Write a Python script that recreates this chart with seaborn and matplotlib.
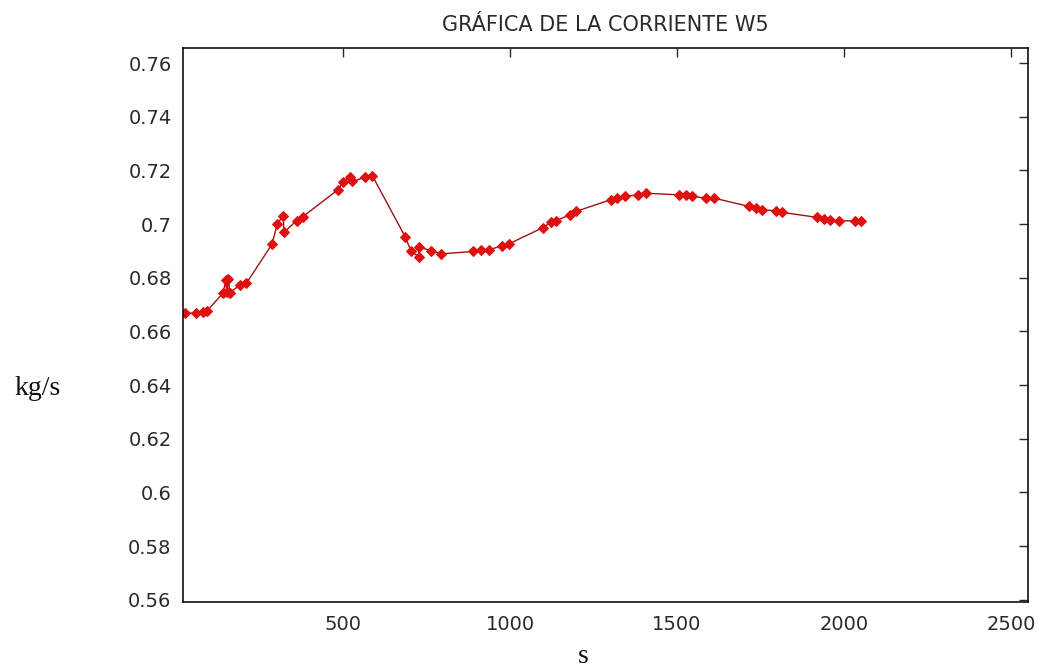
import matplotlib
matplotlib.use("Agg")
import matplotlib.pyplot as plt
import seaborn as sns
import pandas as pd

# Data
time_s = [27, 60, 82, 94, 141, 149, 152, 157, 161, 193, 211, 288, 303, 321, 323,
          361, 380, 485, 500, 520, 528, 565, 588, 687, 704, 727, 729, 764, 794,
          888, 913, 938, 976, 996, 1099, 1122, 1139, 1179, 1197, 1302, 1321,
          1344, 1384, 1406, 1506, 1526, 1546, 1587, 1610, 1715, 1735, 1755,
          1797, 1814, 1919, 1939, 1959, 1984, 2034, 2052]
flow_kgs = [0.6668, 0.6668, 0.6674, 0.6678, 0.6743, 0.6790, 0.6748, 0.6795,
            0.6745, 0.6774, 0.6780, 0.6926, 0.7001, 0.7031, 0.6969, 0.7013,
            0.7028, 0.7128, 0.7157, 0.7174, 0.7159, 0.7174, 0.7180, 0.6951,
            0.6898, 0.6879, 0.6914, 0.6901, 0.6889, 0.6898, 0.6904, 0.6904,
            0.6920, 0.6926, 0.6987, 0.7006, 0.7013, 0.7035, 0.7047, 0.7091,
            0.7097, 0.7103, 0.7109, 0.7115, 0.7109, 0.7109, 0.7103, 0.7097,
            0.7097, 0.7066, 0.7060, 0.7053, 0.7050, 0.7044, 0.7025, 0.7019,
            0.7016, 0.7012, 0.7012, 0.7012]
x_ticks = [500, 1000, 1500, 2000, 2500]
y_ticks = [0.56, 0.58, 0.60, 0.62, 0.64, 0.66, 0.68, 0.70, 0.72, 0.74, 0.76]
title_text = "GRÁFICA DE LA CORRIENTE W5"
x_label = "s"
y_label = "kg/s"

df = pd.DataFrame({"t": time_s, "w": flow_kgs})

sns.set_theme(style="white")
plt.rcParams["font.family"] = ["DejaVu Sans"]

fig = plt.figure(figsize=(10.42, 6.68), dpi=100)
ax = fig.add_axes([0.1753, 0.0988, 0.8110, 0.8293])

sns.lineplot(data=df, x="t", y="w", ax=ax, sort=False, estimator=None,
             color="#a01010", linewidth=1.0, marker="D", markersize=5,
             markerfacecolor="#e01010", markeredgecolor="#e01010")

ax.set_xlim(20, 2550)
ax.set_ylim(0.5592, 0.7656)
ax.set_xticks(x_ticks)
ax.set_xticklabels([f"{v:g}" for v in x_ticks])
ax.set_yticks(y_ticks)
ax.set_yticklabels([f"{v:g}" for v in y_ticks])
ax.tick_params(axis="both", direction="in", length=6.5, width=1.0,
               top=True, right=True, labelsize=14, colors="#2a2a2a")
ax.tick_params(axis="x", pad=9)
ax.tick_params(axis="y", pad=8)
for sp in ax.spines.values():
    sp.set_color("#111111")
    sp.set_linewidth(1.2)
ax.set_xlabel("")
ax.set_ylabel("")
ax.set_title(title_text, fontsize=15, color="#2a2a2a", pad=12)

fig.text(0.036, 0.418, y_label, fontsize=20, family="Liberation Serif",
         ha="center", va="center", color="#111111")
fig.text(0.560, 0.017, x_label, fontsize=20, family="Liberation Serif",
         ha="center", va="center", color="#111111")

fig.savefig("out.png", dpi=100)
